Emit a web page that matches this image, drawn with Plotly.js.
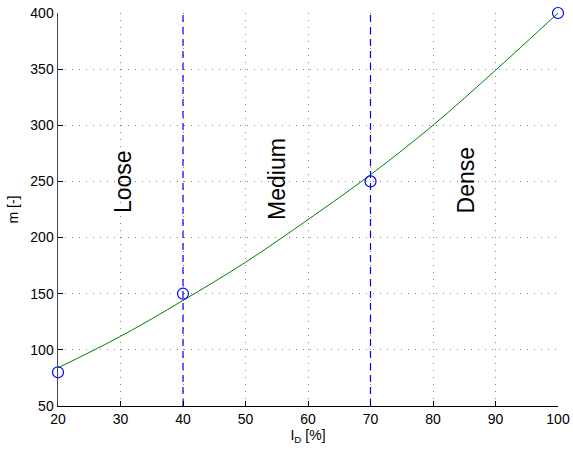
<!DOCTYPE html>
<html>
<head>
<meta charset="utf-8">
<script src="https://cdn.plot.ly/plotly-3.0.1.min.js"></script>
<style>html,body{margin:0;padding:0;background:#fff}#chart{width:573px;height:453px}</style>
</head>
<body>
<div id="chart"></div>
<script>
// Fitted curve
const curveX = [20, 30, 40, 50, 60, 70, 80, 90, 100];
const curveY = [84, 112, 144, 178, 216, 256, 300, 349, 400];
// Measured points
const pointX = [20, 40, 70, 100];
const pointY = [80, 150, 250, 400];
// Class boundaries
const boundaryX = [40, 70];
const yRange = [50, 400];
// Region labels
const regionLabels = ["Loose", "Medium", "Dense"];
const regionX = [30.5, 55, 85.3];
const regionY = [250, 252, 251];
const xTicks = [20, 30, 40, 50, 60, 70, 80, 90, 100];
const yTicks = [50, 100, 150, 200, 250, 300, 350, 400];

const traces = [];
boundaryX.forEach(b => {
  traces.push({x: [b, b], y: yRange, mode: 'lines', type: 'scatter',
    line: {color: '#0000ff', width: 1.2, dash: '7px,5px'}, hoverinfo: 'skip', showlegend: false});
});
traces.push({x: curveX, y: curveY, mode: 'lines', type: 'scatter',
  line: {color: '#008000', width: 1, shape: 'spline', smoothing: 1}, showlegend: false});
traces.push({x: pointX, y: pointY, mode: 'markers', type: 'scatter',
  marker: {symbol: 'circle-open', size: 11, color: '#0000ff', line: {width: 1.2, color: '#0000ff'}},
  cliponaxis: false, showlegend: false});

const annotations = regionLabels.map((t, i) => ({
  x: regionX[i], y: regionY[i], xref: 'x', yref: 'y', text: t, showarrow: false,
  textangle: -90, font: {family: 'Liberation Sans, Arial, sans-serif', size: 23, color: '#000'}
}));

const font = {family: 'Liberation Sans, Arial, sans-serif', size: 14, color: '#000'};
const layout = {
  width: 573, height: 453,
  margin: {l: 58, r: 15, t: 13, b: 47},
  paper_bgcolor: '#fff', plot_bgcolor: '#fff',
  font: font,
  showlegend: false,
  xaxis: {
    range: [20, 100], tickvals: xTicks, ticktext: xTicks.map(String),
    showgrid: true, gridcolor: '#888', griddash: '1px,6px', gridwidth: 1,
    zeroline: false, showline: true, linecolor: '#000', linewidth: 1,
    ticks: 'inside', ticklen: 5, tickcolor: '#000', mirror: false,
    tickfont: font,
    title: {text: 'I<sub>D</sub> [%]', font: font, standoff: 4}
  },
  yaxis: {
    range: yRange, tickvals: yTicks, ticktext: yTicks.map(String),
    showgrid: true, gridcolor: '#888', griddash: '1px,6px', gridwidth: 1,
    zeroline: false, showline: true, linecolor: '#444', linewidth: 1.5,
    ticks: 'inside', ticklen: 5, tickcolor: '#000', mirror: false,
    tickfont: font,
    title: {text: 'm [-]', font: font, standoff: 8}
  },
  annotations: annotations
};
Plotly.newPlot('chart', traces, layout, {staticPlot: true, displayModeBar: false});
</script>
</body>
</html>
